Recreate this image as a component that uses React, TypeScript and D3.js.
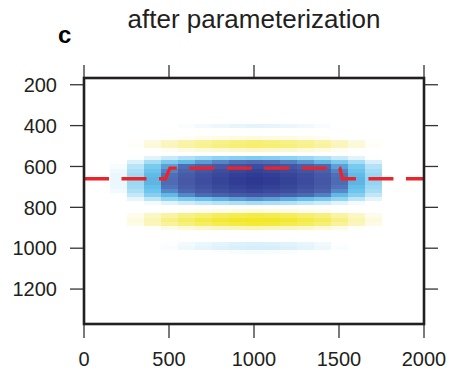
import React from 'react';
import * as d3 from 'd3';

// column centres (x) and their amplitude
const colX = [200, 300, 400, 500, 600, 700, 800, 900, 1000, 1100, 1200, 1300, 1400, 1500, 1600, 1700, 1800];
const colAmp = [0.12, 0.26, 0.42, 0.57, 0.7, 0.8, 0.88, 0.95, 1.0, 0.96, 0.9, 0.82, 0.72, 0.57, 0.42, 0.27, 0.06];

// row centres (depth) and the vertical profile
const rowY = [380, 400, 420, 440, 460, 480, 500, 520, 540, 560, 580, 600, 620, 640, 660, 680, 700, 720, 740, 760, 780, 800, 820, 840, 860, 880, 900, 920, 940, 960, 980, 1000, 1020, 1040];
const rowVal = [-0.08, -0.13, -0.08, 0, 0.14, 0.34, 0.36, 0.18, 0, -0.32, -0.58, -0.8, -0.9, -0.97, -1.0, -1.0, -0.95, -0.88, -0.72, -0.48, -0.24, 0, 0.14, 0.44, 0.54, 0.47, 0.22, 0.03, 0, -0.08, -0.15, -0.16, -0.1, -0.03];

// red dashed interface line
const lineX = [0, 480, 505, 1505, 1520, 2000];
const lineY = [660, 660, 608, 608, 660, 660];

const xTicks = [0, 500, 1000, 1500, 2000];
const yTicks = [200, 400, 600, 800, 1000, 1200];

const width = 449;
const height = 370;
const left = 84, right = 424, top = 78, bottom = 324;

const App = () => {
  const x = d3.scaleLinear().domain([0, 2000]).range([left, right]);
  const y = d3.scaleLinear().domain([167, 1371]).range([top, bottom]);

  // blue for negative, white round zero, yellow for positive
  const color = d3.scaleLinear<string>()
    .domain([-1, -0.7, -0.55, -0.4, -0.28, -0.16, -0.08, 0.08, 0.18, 0.32, 0.5])
    .range(['#2d3890', '#4658a6', '#4f6fb6', '#62bfea', '#8fd3f3', '#d5eefa', '#ffffff', '#ffffff', '#fbf7c8', '#f7f07f', '#f2e829'])
    .interpolate(d3.interpolateRgb)
    .clamp(true);

  const cells: { cx: number; ry: number; v: number }[] = [];
  colX.forEach((cx, i) => {
    rowY.forEach((ry, j) => {
      cells.push({ cx, ry, v: colAmp[i] * rowVal[j] });
    });
  });

  const line = d3.line<number>()
    .x((d, i) => x(lineX[i]))
    .y(d => y(d));

  const font = '"Liberation Sans", Arial, Helvetica, sans-serif';
  const tickColor = '#333';

  return (
    <svg width={width} height={height} style={{ position: 'absolute', left: 0, top: 0 }} fontFamily={font}>
      <defs>
        <clipPath id="plotClip">
          <rect x={left} y={top} width={right - left} height={bottom - top} />
        </clipPath>
      </defs>
      <rect x={0} y={0} width={width} height={height} fill="#fff" />

      <g clipPath="url(#plotClip)" shapeRendering="crispEdges">
        {cells.map((c, k) => (
          <rect
            key={k}
            x={x(c.cx - 50)}
            y={y(c.ry - 10)}
            width={x(c.cx + 50) - x(c.cx - 50) + 0.5}
            height={y(c.ry + 10) - y(c.ry - 10) + 0.5}
            fill={color(c.v)}
          />
        ))}
      </g>

      <path
        d={line(lineY) || ''}
        fill="none"
        stroke="#ea2429"
        strokeWidth={3.3}
        strokeDasharray="25 12.5"
        clipPath="url(#plotClip)"
      />

      {/* ticks */}
      {xTicks.map(t => (
        <g key={'xt' + t} stroke={tickColor} strokeWidth={1.3}>
          <line x1={x(t)} x2={x(t)} y1={bottom} y2={bottom + 14} />
          <line x1={x(t)} x2={x(t)} y1={top} y2={top - 13} />
        </g>
      ))}
      {yTicks.map(t => (
        <g key={'yt' + t} stroke={tickColor} strokeWidth={1.3}>
          <line x1={left - 14} x2={left} y1={y(t)} y2={y(t)} />
          <line x1={right} x2={right + 14} y1={y(t)} y2={y(t)} />
        </g>
      ))}

      <rect x={left} y={top} width={right - left} height={bottom - top} fill="none" stroke="#231f20" strokeWidth={2.6} />

      {xTicks.map(t => (
        <text key={'xl' + t} x={x(t)} y={366} fontSize={20} textAnchor="middle" fill="#231f20">{t}</text>
      ))}
      {yTicks.map(t => (
        <text key={'yl' + t} x={57} y={y(t)} dy="0.36em" fontSize={20} textAnchor="end" fill="#231f20">{t}</text>
      ))}

      <text x={(left + right) / 2} y={28} fontSize={26} textAnchor="middle" fill="#231f20">after parameterization</text>
      <text x={58} y={43} fontSize={24} fontWeight="bold" fill="#000">c</text>
    </svg>
  );
};

export default App;
